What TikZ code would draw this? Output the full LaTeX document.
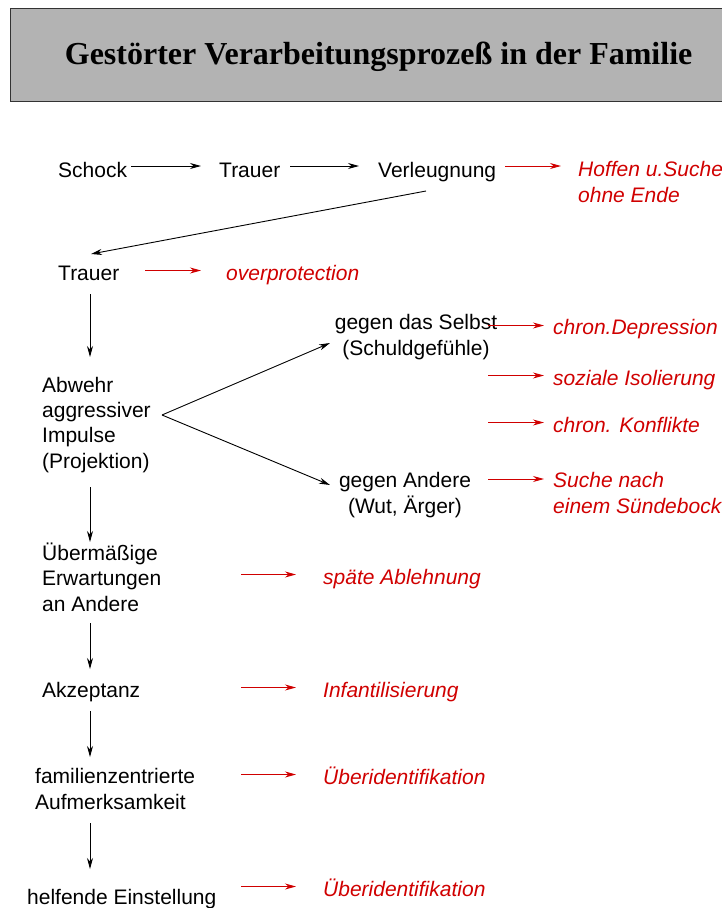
\documentclass[tikz,border=0pt]{standalone}
\usepackage{fontspec}
\setmainfont{Liberation Sans}
\newfontfamily\titlefont{Liberation Serif}
\usetikzlibrary{arrows.meta,positioning}
\definecolor{effectred}{RGB}{208,0,0}
\definecolor{titlegray}{RGB}{179,179,179}

\begin{document}
\begin{tikzpicture}[x=1pt, y=-1pt, inner sep=0pt,
    font=\fontsize{21}{25.3}\selectfont,
    main/.style = {anchor=base west, align=left},
    side/.style = {anchor=base, align=center},
    effect/.style = {anchor=base west, align=left, text=effectred,
      font=\fontsize{21}{25.3}\selectfont\itshape},
    arr/.style = {-{Stealth[length=11pt, width=6pt, inset=3.5pt]}, line width=0.9pt},
    redarr/.style = {arr, effectred}]
	\useasboundingbox (0,0) rectangle (722,908);
	% title
	\node[draw=black!80, line width=1.2pt, fill=titlegray, anchor=north west,
	  minimum width=736pt, minimum height=93pt, text depth=4pt,
	  font=\titlefont\bfseries\fontsize{32}{38}\selectfont] (title) at (10,8)
	  {Gestörter Verarbeitungsprozeß in der Familie};
	% main chain (base = last line)
	\node[main] (schock) at (58,177) {Schock};
	\node[main] (trauerA) at (219,177) {Trauer};
	\node[main] (verl) at (378,177) {Verleugnung};
	\node[main] (trauerB) at (58,280) {Trauer};
	\node[main] (abwehr) at (42,468) {Abwehr\\aggressiver\\Impulse\\(Projektion)};
	\node[side] (selbst) at (416,355) {gegen das Selbst\\(Schuldgefühle)};
	\node[side] (andere) at (405,513) {gegen Andere\\(Wut, Ärger)};
	\node[main] (erwart) at (42,611) {Übermäßige\\Erwartungen\\an Andere};
	\node[main] (akzept) at (42,697) {Akzeptanz};
	\node[main] (famil) at (35,809) {familienzentrierte\\Aufmerksamkeit};
	\node[main] (helfend) at (27,904) {helfende Einstellung};
	% effects
	\node[effect] (hoffen) at (578,202) {Hoffen u.Suche\\ohne Ende};
	\node[effect] (overprot) at (226,280) {overprotection};
	\node[effect] (depr) at (553,334) {chron.Depression};
	\node[effect] (isol) at (553,385) {soziale Isolierung};
	\node[effect] (konfl) at (553,432) {chron. Konflikte};
	\node[effect] (suende) at (553,513) {Suche nach\\einem Sündebock};
	\node[effect] (ablehn) at (323,584) {späte Ablehnung};
	\node[effect] (infant) at (323,697) {Infantilisierung};
	\node[effect] (ueberA) at (323,784) {Überidentifikation};
	\node[effect] (ueberB) at (323,896) {Überidentifikation};
	% black arrows
	\draw[arr] ([shift={(4,-11)}]schock.base east) -- ([shift={(-18,-11)}]trauerA.base west);
	\draw[arr] ([shift={(10,-11)}]trauerA.base east) -- ([shift={(-19,-11)}]verl.base west);
	\draw[arr] ([shift={(48,14)}]verl.base west) -- ([shift={(33,-26)}]trauerB.base west);
	\draw[arr] ([shift={(32,14)}]trauerB.base west) -- ([shift={(48,-111)}]abwehr.base west);
	\coordinate (fork) at ([shift={(120,-53)}]abwehr.base west);
	\draw[arr] (fork) -- ([shift={(-86,-12)}]selbst.base);
	\draw[arr] (fork) -- ([shift={(-75,-28)}]andere.base);
	\draw[arr] ([shift={(48,19)}]abwehr.base west) -- ([shift={(48,-69)}]erwart.base west);
	\draw[arr] ([shift={(48,12)}]erwart.base west) -- ([shift={(48,-28)}]akzept.base west);
	\draw[arr] ([shift={(48,14)}]akzept.base west) -- ([shift={(55,-52)}]famil.base west);
	\draw[arr] ([shift={(55,14)}]famil.base west) -- ([shift={(63,-35)}]helfend.base west);
	% red arrows
	\draw[redarr] ([shift={(-73,-36)}]hoffen.base west) -- ([shift={(-17,-36)}]hoffen.base west);
	\draw[redarr] ([shift={(-81,-9.5)}]overprot.base west) -- ([shift={(-25,-9.5)}]overprot.base west);
	\draw[redarr] ([shift={(-65,-8.5)}]depr.base west) -- ([shift={(-9,-8.5)}]depr.base west);
	\draw[redarr] ([shift={(-65,-9.5)}]isol.base west) -- ([shift={(-9,-9.5)}]isol.base west);
	\draw[redarr] ([shift={(-65,-9.5)}]konfl.base west) -- ([shift={(-9,-9.5)}]konfl.base west);
	\draw[redarr] ([shift={(-65,-34)}]suende.base west) -- ([shift={(-9,-34)}]suende.base west);
	\draw[redarr] ([shift={(-82,-9.5)}]ablehn.base west) -- ([shift={(-27,-9.5)}]ablehn.base west);
	\draw[redarr] ([shift={(-82,-9.5)}]infant.base west) -- ([shift={(-27,-9.5)}]infant.base west);
	\draw[redarr] ([shift={(-82,-9.5)}]ueberA.base west) -- ([shift={(-27,-9.5)}]ueberA.base west);
	\draw[redarr] ([shift={(-82,-9.5)}]ueberB.base west) -- ([shift={(-27,-9.5)}]ueberB.base west);
\end{tikzpicture}
\end{document}
